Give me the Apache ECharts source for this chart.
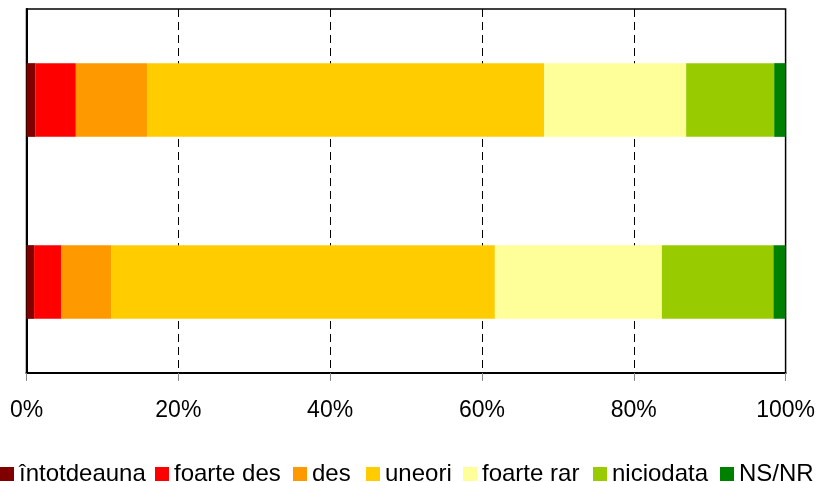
<!DOCTYPE html>
<html>
<head>
<meta charset="utf-8">
<script src="https://cdn.jsdelivr.net/npm/echarts@6/dist/echarts.min.js"></script>
<style>
  html, body { margin: 0; padding: 0; background: #fff; }
  #chart { width: 818px; height: 482px; }
</style>
</head>
<body>
<div id="chart"></div>
<script>
// categories, top bar first (yAxis is inverted)
const categories = ['A', 'B'];
const seriesNames = ['întotdeauna', 'foarte des', 'des', 'uneori', 'foarte rar', 'niciodata', 'NS/NR'];
const colors = ['#800000', '#FF0000', '#FF9900', '#FFCC00', '#FFFF99', '#99CC00', '#008000'];
// values in %, one array per answer: [top bar, bottom bar]
const intotdeauna = [1.2, 1.0];
const foarteDes = [5.3, 3.6];
const des = [9.4, 6.6];
const uneori = [52.3, 50.5];
const foarteRar = [18.7, 22.0];
const niciodata = [11.6, 14.7];
const nsnr = [1.5, 1.6];
const values = [intotdeauna, foarteDes, des, uneori, foarteRar, niciodata, nsnr];
const xTicks = [0, 20, 40, 60, 80, 100];

// left edge of each legend entry (one legend per entry so the row doesn't wrap)
const legendLeft = [0, 155, 293, 366, 463, 593, 720];

const fontFamily = '"Liberation Sans", Arial, sans-serif';

const chart = echarts.init(document.getElementById('chart'));
const option = {
  animation: false,
  color: colors,
  grid: {
    left: 26.5,
    right: 32,
    top: 9,
    bottom: 109,
    show: true,
    borderColor: '#000',
    borderWidth: 1.5,
    containLabel: false
  },
  legend: seriesNames.map((name, i) => ({
    data: [name],
    left: legendLeft[i],
    top: 462,
    padding: 0,
    icon: 'rect',
    itemWidth: 14,
    itemHeight: 14,
    textStyle: { fontSize: 24, color: '#000', fontFamily: fontFamily }
  })),
  xAxis: {
    type: 'value',
    min: xTicks[0],
    max: xTicks[xTicks.length - 1],
    interval: 20,
    axisLine: { show: true, lineStyle: { color: '#000', width: 2 } },
    axisTick: { show: true, length: 8, lineStyle: { color: '#888', width: 1 } },
    axisLabel: {
      formatter: '{value}%',
      fontSize: 23,
      color: '#000',
      fontFamily: fontFamily,
      margin: 26
    },
    splitLine: { show: true, lineStyle: { color: '#000', type: [8, 5], width: 1 } }
  },
  yAxis: {
    type: 'category',
    data: categories,
    inverse: true,
    axisLine: { show: true, lineStyle: { color: '#000', width: 2 } },
    axisTick: { show: false },
    axisLabel: { show: false },
    splitLine: { show: false }
  },
  series: seriesNames.map((name, i) => ({
    name: name,
    type: 'bar',
    stack: 'total',
    barWidth: '40.5%',
    data: values[i],
    itemStyle: { color: colors[i] }
  }))
};
chart.setOption(option);
</script>
</body>
</html>
